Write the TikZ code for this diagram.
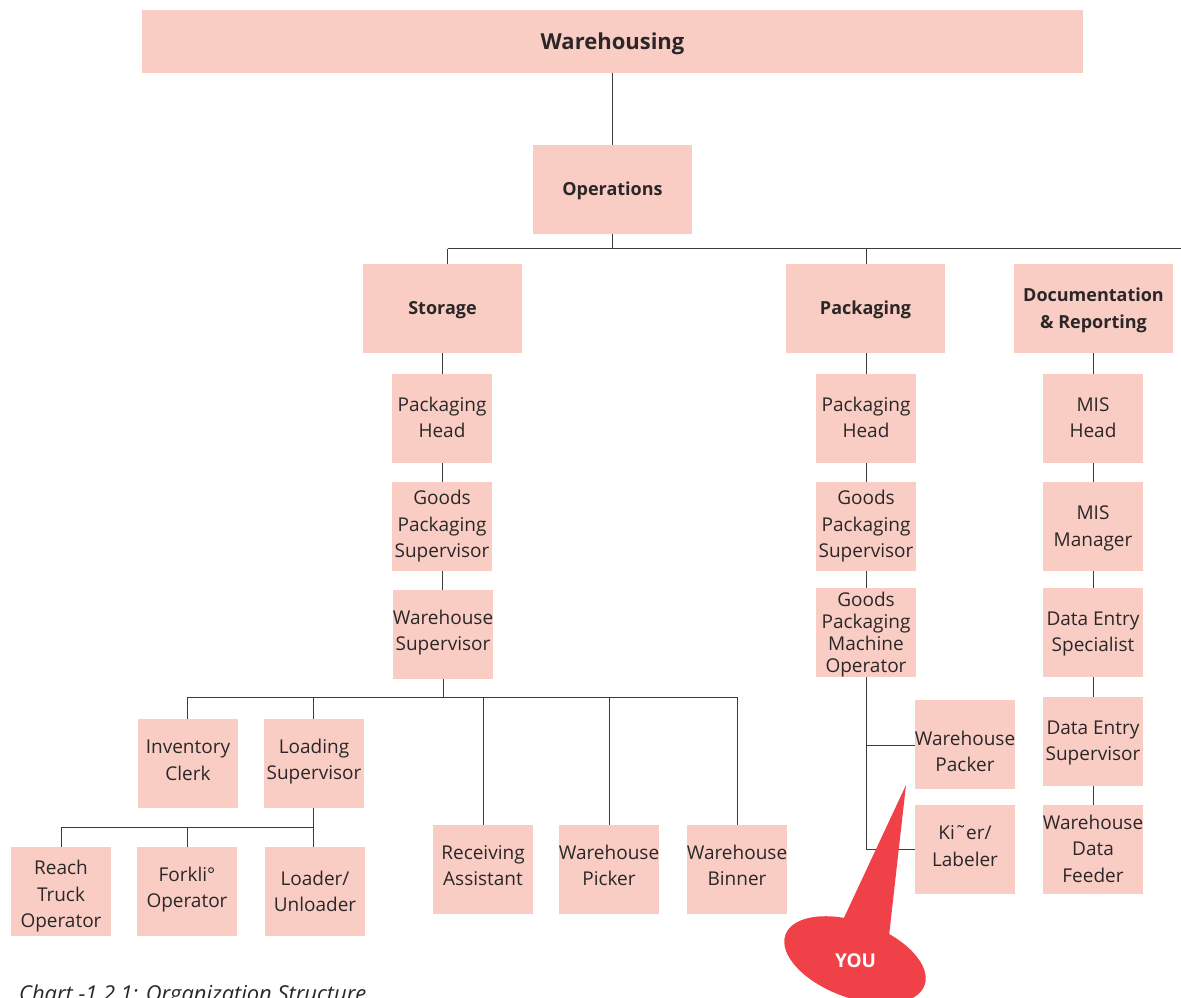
\documentclass[tikz,border=0pt]{standalone}
\usepackage{fontspec}
\setmainfont{Open Sans}
\definecolor{boxfill}{HTML}{F9CDC4}
\definecolor{ink}{HTML}{2B2728}
\definecolor{wire}{HTML}{3C3C3C}
\definecolor{callred}{HTML}{F04048}
\begin{document}
\begin{tikzpicture}[x=1pt,y=-1pt,
  base/.style={fill=boxfill,inner sep=0pt,outer sep=0pt},
  lab/.style={text=ink,align=center,inner sep=0pt},
  role/.style={base,minimum width=100pt,minimum height=89pt},
  dept/.style={base,minimum width=159pt,minimum height=89pt},
  rt/.style n args={2}{label={[lab,font=\fontsize{19}{26.5}\selectfont,yshift=#1 pt]center:#2}},
  tt/.style n args={2}{label={[lab,font=\fontsize{19}{22}\selectfont,yshift=#1 pt]center:#2}},
  dt/.style n args={2}{label={[lab,font=\fontsize{18}{27}\selectfont\bfseries,yshift=#1 pt]center:#2}},
  wt/.style n args={2}{label={[lab,font=\fontsize{22}{27}\selectfont\bfseries,yshift=#1 pt]center:#2}},
  wirel/.style={draw=wire,line width=1pt},
]
\useasboundingbox (0,0) rectangle (1181,998);
\begin{scope}
\clip (0,0) rectangle (1181,998);
% top levels
\node[base,minimum width=941pt,minimum height=63pt,wt={-2}{Warehousing}] (wh) at (612.5,41.5) {};
\node[dept,dt={-1}{Operations}] (ops) at (612.5,189.5) {};
\node[dept,dt={-2}{Storage}] (sto) at (442.5,308.5) {};
\node[dept,dt={-1}{Packaging}] (pak) at (865.5,308.5) {};
\node[dept,dt={-2}{Documentation\\\& Reporting}] (doc) at (1093.5,308.5) {};
% storage column
\node[role,rt={1}{Packaging\\Head}] (s1) at (442,418.5) {};
\node[role,rt={0}{Goods\\Packaging\\Supervisor}] (s2) at (442,526.5) {};
\node[role,rt={2}{Warehouse\\Supervisor}] (s3) at (443,634.5) {};
\node[role,rt={3}{Inventory\\Clerk}] (inv) at (188,763.5) {};
\node[role,rt={2}{Loading\\Supervisor}] (loa) at (314,763.5) {};
\node[role,rt={4}{Receiving\\Assistant}] (rec) at (483,869.5) {};
\node[role,rt={4}{Warehouse\\Picker}] (pic) at (609,869.5) {};
\node[role,rt={4}{Warehouse\\Binner}] (bin) at (737,869.5) {};
\node[role,rt={-5}{Reach\\Truck\\Operator}] (rea) at (61,891.5) {};
\node[role,rt={2}{Forkli°\\Operator}] (frk) at (187,891.5) {};
\node[role,rt={0}{Loader/\\Unloader}] (unl) at (315,891.5) {};
% packaging column
\node[role,rt={1}{Packaging\\Head}] (p1) at (866,418.5) {};
\node[role,rt={0}{Goods\\Packaging\\Supervisor}] (p2) at (866,526.5) {};
\node[role,tt={-2}{Goods\\Packaging\\Machine\\Operator}] (p3) at (866,632.5) {};
\node[role,rt={-7}{Warehouse\\Packer}] (pk) at (965,744.5) {};
\node[role,rt={3.5}{Ki˜er/\\Labeler}] (kit) at (965,849.5) {};
% documentation column
\node[role,rt={1}{MIS\\Head}] (d1) at (1093,418.5) {};
\node[role,rt={-2}{MIS\\Manager}] (d2) at (1093,526.5) {};
\node[role,rt={-1.5}{Data Entry\\Specialist}] (d3) at (1093,632.5) {};
\node[role,rt={-1.5}{Data Entry\\Supervisor}] (d4) at (1093,741.5) {};
\node[role,rt={1}{Warehouse\\Data\\Feeder}] (d5) at (1093,849.5) {};
% junction points
\coordinate (busa) at (447.5,248.5);
\coordinate (busb) at (866.5,248.5);
\coordinate (busc) at (612.5,248.5);
\coordinate (busd) at (1181,248.5);
\coordinate (stoa) at (443,697);
\coordinate (stob) at (187.5,697);
\coordinate (stoc) at (313.5,697);
\coordinate (stod) at (483.5,697);
\coordinate (stoe) at (609.5,697);
\coordinate (stof) at (737.5,697);
\coordinate (loaa) at (313.5,827.5);
\coordinate (loab) at (61,827.5);
\coordinate (loac) at (187,827.5);
\coordinate (paka) at (866.5,677);
\coordinate (pakb) at (866.5,745);
\coordinate (pakc) at (866.5,849);
% connectors
\draw[wirel] (wh.south) -- (ops.north);
\draw[wirel] (ops.south) -- (busc);
\draw[wirel] (busa) -- (busd);
\draw[wirel] (busa) -- (busa |- sto.north);
\draw[wirel] (busb) -- (busb |- pak.north);
\draw[wirel] (sto.south) -- (sto.south |- s1.north);
\draw[wirel] (s1.south -| sto.south) -- (s2.north -| sto.south);
\draw[wirel] (s2.south -| sto.south) -- (s3.north -| sto.south);
\draw[wirel] (s3.south) -- (stoa);
\draw[wirel] (stob) -- (stof);
\draw[wirel] (stob) -- (stob |- inv.north);
\draw[wirel] (stoc) -- (stoc |- loa.north);
\draw[wirel] (stod) -- (stod |- rec.north);
\draw[wirel] (stoe) -- (stoe |- pic.north);
\draw[wirel] (stof) -- (stof |- bin.north);
\draw[wirel] (loaa |- loa.south) -- (loaa |- unl.north);
\draw[wirel] (loab) -- (loaa);
\draw[wirel] (loab) -- (loab |- rea.north);
\draw[wirel] (loac) -- (loac |- frk.north);
\draw[wirel] (pak.south -| p1.north) -- (p1.north);
\draw[wirel] (p1.south) -- (p2.north);
\draw[wirel] (p2.south) -- (p3.north);
\draw[wirel] (paka) -- (pakc) -- (pakc -| kit.west);
\draw[wirel] (pakb) -- (pakb -| pk.west);
\draw[wirel] (doc.south -| d1.north) -- (d1.north);
\draw[wirel] (d1.south) -- (d2.north);
\draw[wirel] (d2.south) -- (d3.north);
\draw[wirel] (d3.south) -- (d4.north);
\draw[wirel] (d4.south) -- (d5.north);
% callout
\fill[callred] (855,960) ellipse[x radius=74,y radius=38,rotate=-20];
\fill[callred] (906,785) -- (842,922) -- (889,936) -- cycle;
\node[text=white,font=\fontsize{19}{22}\selectfont\bfseries,inner sep=0pt] (you) at (855.5,961) {YOU};
% caption
\node[anchor=base west,inner sep=0pt,text=ink,font=\fontsize{21.9}{26}\selectfont\itshape] (cap) at (19,1001) {Chart -1.2.1: Organization Structure};
\end{scope}
\end{tikzpicture}
\end{document}
